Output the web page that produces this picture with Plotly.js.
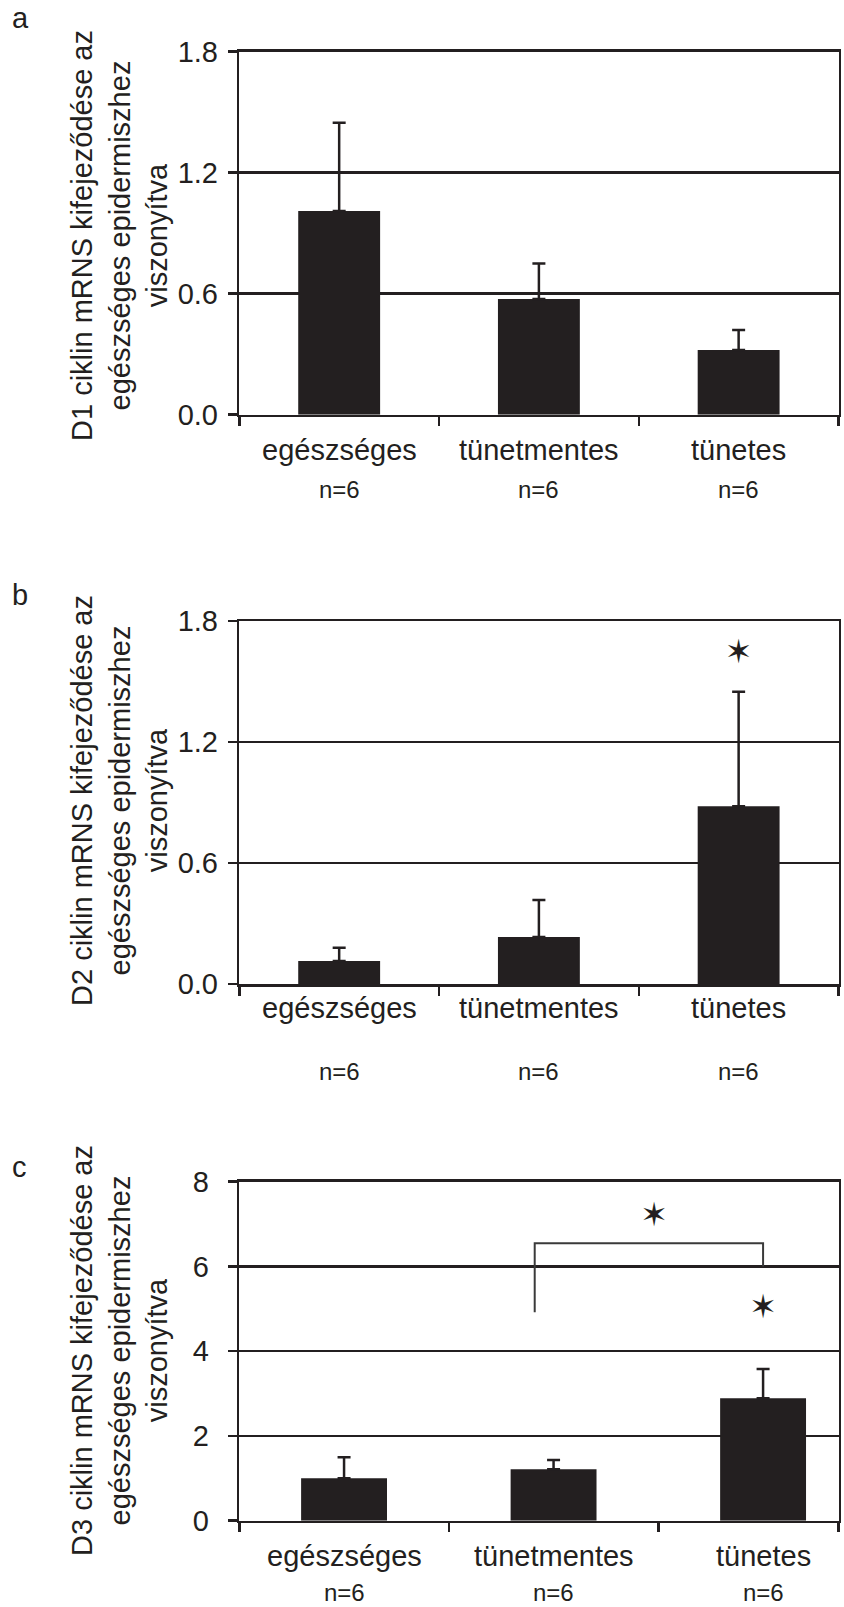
<!DOCTYPE html>
<html>
<head>
<meta charset="utf-8">
<script src="https://cdn.plot.ly/plotly-3.0.1.min.js"></script>
<style>html,body{margin:0;padding:0;background:#fff;}#chart{width:844px;height:1607px;}</style>
</head>
<body>
<div id="chart"></div>
<script>
// ---------- data ----------
const categories = ['egészséges', 'tünetmentes', 'tünetes'];
const nLabels = ['n=6', 'n=6', 'n=6'];
const panelLetters = ['a', 'b', 'c'];

const d1Values = [1.01, 0.574, 0.321];
const d1Errors = [0.438, 0.176, 0.099];
const d2Values = [0.114, 0.233, 0.882];
const d2Errors = [0.066, 0.183, 0.567];
const d3Values = [1.0, 1.213, 2.89];
const d3Errors = [0.50, 0.22, 0.69];

const d1TickVals = [0, 0.6, 1.2, 1.8];
const d2TickVals = [0, 0.6, 1.2, 1.8];
const d3TickVals = [0, 2, 4, 6, 8];

const d2StarX = [2];
const d2StarY = [1.635];
const d3StarX = [1.48, 2];
const d3StarY = [7.15, 4.98];
const d3BracketX = [0.91, 0.91, 2, 2];
const d3BracketY = [4.92, 6.55, 6.55, 6.0];

const yTitles = [
  'D1 ciklin mRNS kifejeződése az<br>egészséges epidermiszhez<br>viszonyítva',
  'D2 ciklin mRNS kifejeződése az<br>egészséges epidermiszhez<br>viszonyítva',
  'D3 ciklin mRNS kifejeződése az<br>egészséges epidermiszhez<br>viszonyítva'
];
const starSymbol = '✶';

// ---------- layout helpers ----------
const W = 844, H = 1607;
const px = x => x / W;
const py = y => 1 - y / H;
const INK = '#231f20';
const FONT = 'Liberation Sans, Arial, Helvetica, sans-serif';

const panels = [
  {values: d1Values, errors: d1Errors, ticks: d1TickVals, fmt: '.1f', yRange: [0, 1.8], xRange: [-0.5, 2.5],
   top: 51.7, bottom: 414.7, letterY: 18, labelY: 450, nY: 489.7, titleY: 236, standoff: 4},
  {values: d2Values, errors: d2Errors, ticks: d2TickVals, fmt: '.1f', yRange: [0, 1.8], xRange: [-0.5, 2.5],
   top: 621, bottom: 984, letterY: 595, labelY: 1008, nY: 1071, titleY: 801, standoff: 4},
  {values: d3Values, errors: d3Errors, ticks: d3TickVals, fmt: 'd', yRange: [0, 8], xRange: [-0.5, 2.36],
   top: 1181.7, bottom: 1520.7, letterY: 1167, labelY: 1556, nY: 1592, titleY: 1351, standoff: 13}
];
const plotLeft = 239.3, plotRight = 838.5;

const data = [];
const layout = {
  width: W, height: H,
  margin: {l: 0, r: 0, t: 0, b: 0},
  paper_bgcolor: '#ffffff', plot_bgcolor: '#ffffff',
  showlegend: false,
  annotations: []
};

panels.forEach((p, k) => {
  const sfx = k === 0 ? '' : String(k + 1);
  const xa = 'x' + sfx, ya = 'y' + sfx;
  const idx = categories.map((_, i) => i);

  data.push({
    type: 'bar', x: idx, y: p.values, width: 0.41,
    xaxis: xa, yaxis: ya,
    marker: {color: INK, line: {width: 0}},
    error_y: {type: 'data', symmetric: false, array: p.errors, arrayminus: p.errors.map(() => 0),
              color: INK, thickness: 2.5, width: 6.5},
    hoverinfo: 'skip'
  });

  const boundaries = [-0.5, 0.5, 1.5, p.xRange[1]];
  layout['xaxis' + sfx] = {
    domain: [px(plotLeft), px(plotRight)], anchor: ya,
    range: p.xRange, tickmode: 'array', tickvals: boundaries,
    showticklabels: false, ticks: 'outside', ticklen: 9, tickwidth: 2.5, tickcolor: INK,
    showline: true, mirror: true, linecolor: INK, linewidth: 2.5,
    showgrid: false, zeroline: false, fixedrange: true
  };
  layout['yaxis' + sfx] = {
    domain: [py(p.bottom), py(p.top)], anchor: xa,
    range: p.yRange, tickmode: 'array', tickvals: p.ticks, tickformat: p.fmt,
    ticks: 'outside', ticklen: 9, tickwidth: 2.5, tickcolor: INK,
    ticklabelstandoff: p.standoff,
    tickfont: {family: FONT, size: 29, color: INK},
    showline: true, mirror: true, linecolor: INK, linewidth: 2.5,
    showgrid: true, gridcolor: INK, gridwidth: 2.5, zeroline: false, fixedrange: true
  };

  categories.forEach((c, i) => {
    layout.annotations.push({xref: xa, x: i, yref: 'paper', y: py(p.labelY), text: c,
      showarrow: false, xanchor: 'center', yanchor: 'middle',
      font: {family: FONT, size: 29, color: INK}});
    layout.annotations.push({xref: xa, x: i, yref: 'paper', y: py(p.nY), text: nLabels[i],
      showarrow: false, xanchor: 'center', yanchor: 'middle',
      font: {family: FONT, size: 24, color: INK}});
  });

  layout.annotations.push({xref: 'paper', x: px(119), yref: 'paper', y: py(p.titleY),
    text: yTitles[k], textangle: -90, showarrow: false, xanchor: 'center', yanchor: 'middle',
    align: 'center', font: {family: FONT, size: 29, color: INK}});

  layout.annotations.push({xref: 'paper', x: px(10), yref: 'paper', y: py(p.letterY),
    text: panelLetters[k], showarrow: false, xanchor: 'left', yanchor: 'middle',
    font: {family: FONT, size: 29, color: INK}});
});

// significance marks
data.push({type: 'scatter', mode: 'text', x: d2StarX, y: d2StarY, text: d2StarX.map(() => starSymbol),
  textposition: 'middle center', textfont: {family: 'DejaVu Sans', size: 33, color: INK},
  xaxis: 'x2', yaxis: 'y2', hoverinfo: 'skip', cliponaxis: false});
data.push({type: 'scatter', mode: 'lines', x: d3BracketX, y: d3BracketY,
  line: {color: '#3a3a3a', width: 2}, xaxis: 'x3', yaxis: 'y3', hoverinfo: 'skip'});
data.push({type: 'scatter', mode: 'text', x: d3StarX, y: d3StarY, text: d3StarX.map(() => starSymbol),
  textposition: 'middle center', textfont: {family: 'DejaVu Sans', size: 33, color: INK},
  xaxis: 'x3', yaxis: 'y3', hoverinfo: 'skip', cliponaxis: false});

Plotly.newPlot('chart', data, layout, {staticPlot: true, displayModeBar: false});
</script>
</body>
</html>
